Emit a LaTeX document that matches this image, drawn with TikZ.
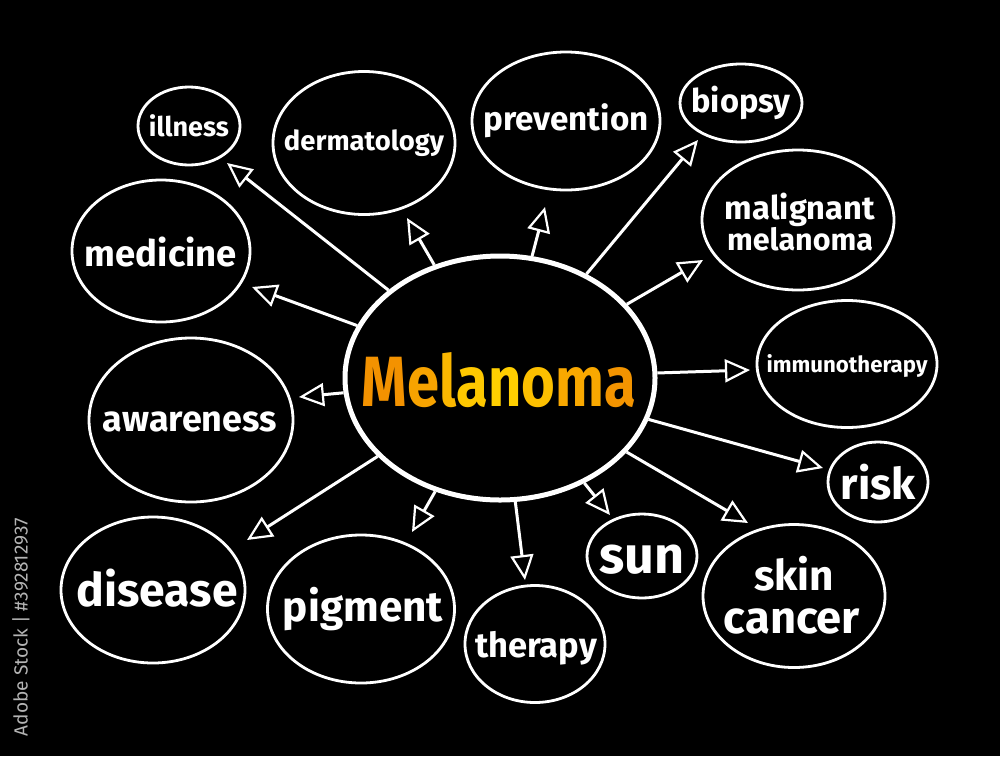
\documentclass[tikz,border=0pt]{standalone}
\usepackage{fontspec}
\setmainfont{Fira Sans}
\usetikzlibrary{shapes.geometric,arrows.meta}
\definecolor{mA}{HTML}{F39200}
\definecolor{mB}{HTML}{F7A300}
\definecolor{mC}{HTML}{FBB700}
\definecolor{mD}{HTML}{FEC800}
\definecolor{mE}{HTML}{FFCF00}
\definecolor{mF}{HTML}{FDC000}
\definecolor{mG}{HTML}{F9A800}
\definecolor{mH}{HTML}{F39400}
\definecolor{idgray}{HTML}{B4B4B4}
\newcommand\tw[2]{\resizebox{#1pt}{!}{#2}}
\begin{document}
\begin{tikzpicture}[x=1pt,y=-1pt,
  bub/.style={ellipse,draw=white,line width=2.8pt,inner sep=0pt,text=white,
    font=\bfseries,align=center},
  lbl/.style={text=white,font=\bfseries,inner sep=0pt,align=center},
  conn/.style={draw=white,line width=3pt,
    -{Triangle[open,length=25pt,width=23pt,line width=2.2pt]}}]
\fill[black] (0,0) rectangle (1000,756);
\useasboundingbox (0,0) rectangle (1000,756);

% central node
\node[ellipse,draw=white,line width=5pt,inner sep=0pt,
  minimum width=310pt,minimum height=244pt] (mel) at (500,378) {};
\node[inner sep=0pt,font=\bfseries] (mellabel) at (499,380) {\resizebox{274pt}{54pt}{%
  \textcolor{mA}{M}\textcolor{mB}{e}\textcolor{mC}{l}\textcolor{mD}{a}%
  \textcolor{mE}{n}\textcolor{mF}{o}\textcolor{mG}{m}\textcolor{mH}{a}}};

% outer nodes
\node[bub,minimum width=102pt,minimum height=78pt] (illness) at (189,126) {};
\node[lbl] at (illness) {\tw{80}{illness}};
\node[bub,minimum width=182pt,minimum height=143pt] (dermatology) at (364,143) {};
\node[lbl] at (dermatology) {\tw{160}{dermatology}};
\node[bub,minimum width=188pt,minimum height=138pt] (prevention) at (566,121) {};
\node[lbl] at (prevention) {\tw{165}{prevention}};
\node[bub,minimum width=122pt,minimum height=78pt] (biopsy) at (741,103) {};
\node[lbl] at (biopsy) {\tw{99}{biopsy}};
\node[bub,minimum width=192pt,minimum height=140pt] (malignant) at (798,220) {};
\node[lbl] at (800,222) {\tw{150}{malignant}\\[0pt]\tw{146}{melanoma}};
\node[bub,minimum width=180pt,minimum height=127pt] (immuno) at (847,364) {};
\node[lbl] at (847,366) {\tw{161}{immunotherapy}};
\node[bub,minimum width=100pt,minimum height=80pt] (risk) at (878,482) {};
\node[lbl] at (878,482) {\tw{75}{risk}};
\node[bub,minimum width=182pt,minimum height=143pt] (skin) at (794,596) {};
\node[lbl,anchor=base] (skinA) at (794,590) {\tw{80}{skin}};
\node[lbl,anchor=base] (skinB) at (792,633) {\tw{136}{cancer}};
\node[bub,minimum width=110pt,minimum height=84pt] (sun) at (642,556) {};
\node[lbl] at (642,560) {\tw{85}{sun}};
\node[bub,minimum width=140pt,minimum height=117pt] (therapy) at (535,644) {};
\node[lbl] at (536,648) {\tw{122}{therapy}};
\node[bub,minimum width=187pt,minimum height=148pt] (pigment) at (361,609) {};
\node[lbl] at (363,609) {\tw{160}{pigment}};
\node[bub,minimum width=184pt,minimum height=146pt] (disease) at (153,590) {};
\node[lbl] at (157,588) {\tw{161}{disease}};
\node[bub,minimum width=204pt,minimum height=164pt] (awareness) at (191,420) {};
\node[lbl] at (190,422) {\tw{174}{awareness}};
\node[bub,minimum width=178pt,minimum height=142pt] (medicine) at (161,251) {};
\node[lbl] at (161,252) {\tw{152}{medicine}};

% arrow tips
\coordinate (t-illness) at (227,163);
\coordinate (t-derm) at (407,218);
\coordinate (t-prev) at (545,207);
\coordinate (t-biopsy) at (698,140);
\coordinate (t-malig) at (703,260);
\coordinate (t-immuno) at (750,370);
\coordinate (t-risk) at (823,468);
\coordinate (t-skin) at (748,523);
\coordinate (t-sun) at (610,515);
\coordinate (t-therapy) at (525,580);
\coordinate (t-pigment) at (412,532);
\coordinate (t-disease) at (247,540);
\coordinate (t-aware) at (299,397);
\coordinate (t-medicine) at (252,287);

\foreach \t in {illness,derm,prev,biopsy,malig,immuno,risk,skin,sun,therapy,pigment,disease,aware,medicine}
  \draw[conn] (mel) -- (t-\t);

% stock id
\node[rotate=90,text=idgray,inner sep=0pt] (stockid) at (21,627)
  {\tw{218}{Adobe Stock | \#392812937}};
\end{tikzpicture}
\end{document}
